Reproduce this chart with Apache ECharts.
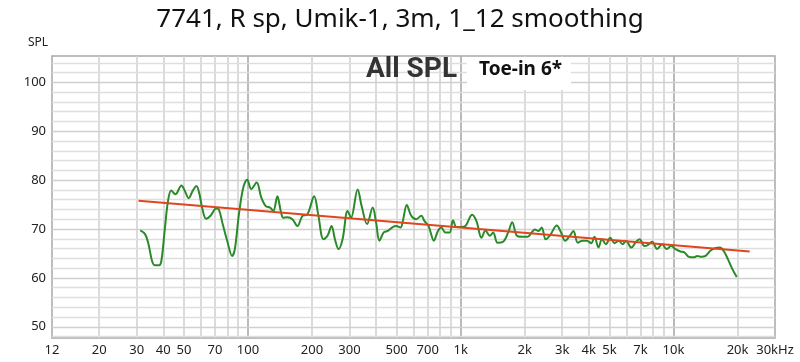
<!DOCTYPE html>
<html><head><meta charset="utf-8">
<script src="https://cdn.jsdelivr.net/npm/echarts@6/dist/echarts.min.js"></script>
<style>html,body{margin:0;padding:0;background:#fff}#c{width:800px;height:362px}</style>
</head><body><div id="c"></div>
<script>
// Measured response (Hz)
const freqs = [31.2,32.9,34.1,35.4,36.4,38.3,39.2,40.6,42.1,43.6,45.6,48.7,50.4,52.7,55.0,57.3,59.2,60.9,63.6,66.7,
  70.9,73.0,76.2,79.9,84.3,86.8,90.7,95.0,99.2,103.7,109.9,115.6,121.2,127.0,131.6,137.5,142.6,146.7,153.2,161.8,
  170.8,180.4,190.4,204.8,213.9,226.6,236.6,247.2,256.4,266.7,278.5,294.1,305.1,327.8,342.3,363.1,385.8,400.4,415.0,434.8,
  454.0,479.4,497.4,521.2,534.3,558.1,585.5,618.0,652.5,676.1,706.3,748.2,781.6,810.9,847.2,887.2,919.9,954.4,1000,1052,
  1131,1186,1252,1308,1370,1421,1490,1583,1672,1746,1831,1934,2064,2156,2234,2316,2403,2509,2629,2828,
  2963,3095,3267,3386,3552,3734,3917,4104,4254,4442,4610,4814,5044,5285,5521,5767,5983,6338,6668,6934,
  7298,7565,7934,8379,8846,9268,9754,10220,10790,11270,11810,12470,12940,13510,14160,14950,15780,16540,17280,18040,
  18920,19830];
// SPL (dB)
const spl = [69.7,68.9,66.9,63.5,62.6,62.6,63.5,69.6,75.7,77.9,77.1,78.9,77.9,76.3,77.8,78.8,77.1,74.4,72.1,72.7,
  74.2,74.0,70.9,67.6,64.5,65.9,73.0,78.4,80.1,78.2,79.5,76.4,74.7,74.4,73.7,76.7,73.7,72.3,72.4,72.0,
  70.6,72.7,73.0,76.7,73.0,67.9,68.6,70.6,67.9,65.9,67.9,73.7,72.3,78.1,74.7,71.0,74.4,71.3,67.6,69.3,
  69.6,70.4,70.6,70.3,71.6,74.9,72.7,72.0,72.7,71.6,70.6,67.6,69.6,70.3,69.3,69.3,71.8,70.4,70.4,70.6,
  72.9,71.6,68.2,69.7,68.6,69.3,67.2,67.4,69.3,71.4,68.7,68.4,68.4,69.3,69.9,69.6,70.3,67.9,68.7,70.7,
  69.3,67.6,68.7,69.6,67.2,67.6,67.6,67.1,68.4,66.2,67.9,66.9,68.2,67.1,67.6,66.9,67.6,66.2,67.4,67.9,
  66.5,66.7,67.4,65.9,66.9,65.9,66.5,65.9,65.4,65.2,64.3,64.2,64.5,64.3,64.5,65.6,66.1,66.2,65.4,63.8,
  61.8,60.2];
// Trend line
const trendFreqs = [30.6, 22800];
const trendSpl = [75.8, 65.4];
// Axis labels / grid
const xTickLabels = [12,20,30,40,50,70,100,200,300,500,700,1000,2000,3000,4000,5000,7000,10000,20000,30000];
const xGridFreqs = [20,30,40,50,60,70,80,90,100,200,300,400,500,600,700,800,900,1000,2000,3000,4000,5000,6000,7000,8000,9000,10000,20000];
const yTickLabels = [50,60,70,80,90,100];
const yGridLevels = [48,50,52,54,56,58,60,62,64,66,68,70,72,74,76,78,80,82,84,86,88,90,92,94,96,98,100,102,104];
const titleText = '7741, R sp, Umik-1, 3m, 1_12 smoothing';
const yName = 'SPL';
const noteText = 'All SPL';
const boxText = 'Toe-in 6*';

const chart = echarts.init(document.getElementById('c'), null, {renderer: 'canvas'});
const fmtX = v => v === 30000 ? '30kHz' : (v >= 1000 ? (v/1000) + 'k' : String(v));
const decades = [100, 1000, 10000];
const vLines = xGridFreqs.map(f => ({xAxis: f, lineStyle: {color: decades.includes(f) ? '#a9a9a9' : '#d2d2d2', width: 1.6, type: 'solid'}}));
const hLines = yGridLevels.map(l => ({yAxis: l, lineStyle: {color: l % 10 === 0 ? '#d0d0d0' : '#dedede', width: 1.4, type: 'solid'}}));

chart.setOption({
  animation: false,
  backgroundColor: '#fff',
  title: {text: titleText, left: 'center', top: 2,
    textStyle: {fontFamily: 'Noto Sans', fontWeight: 'normal', fontSize: 26, color: '#111'}},
  grid: {left: 52, right: 25, top: 56, bottom: 24, show: true, borderColor: '#a8a8a8', borderWidth: 1.5, backgroundColor: '#fff'},
  xAxis: {type: 'log', logBase: 10, min: 12, max: 30000,
    axisLine: {show: false}, axisTick: {show: false}, splitLine: {show: false}, minorSplitLine: {show: false},
    axisLabel: {customValues: xTickLabels, formatter: fmtX, margin: 6, color: '#222', fontFamily: 'Noto Sans', fontSize: 13, showMinLabel: true, showMaxLabel: true}},
  yAxis: {type: 'value', min: 47.7, max: 105.4,
    axisLine: {show: false}, axisTick: {show: false}, splitLine: {show: false},
    axisLabel: {customValues: yTickLabels, margin: 6, color: '#222', fontFamily: 'Noto Sans', fontSize: 13}},
  graphic: [
    {type: 'text', left: 28, top: 37, style: {text: yName, fontFamily: 'Noto Sans', fontSize: 12, fill: '#222'}},
    {type: 'rect', z: 5, shape: {x: 467, y: 57, width: 104, height: 33}, style: {fill: '#fff'}},
    {type: 'text', z: 6, left: 366, top: 56, style: {text: noteText, fontFamily: 'Liberation Sans Narrow, Roboto', fontWeight: 'bold', fontSize: 28, fill: '#333'}},
    {type: 'text', z: 6, left: 479, top: 60, style: {text: boxText, fontFamily: 'Noto Sans', fontWeight: 'bold', fontSize: 19, fill: '#111'}}
  ],
  series: [
    {type: 'line', z: 1, data: [], silent: true,
      markLine: {z: 1, silent: true, symbol: 'none', label: {show: false}, animation: false, data: vLines.concat(hLines)}},
    {type: 'line', z: 3, data: freqs.map((f, i) => [f, spl[i]]), smooth: 0.35, symbol: 'none',
      lineStyle: {color: '#2a8a2a', width: 2}},
    {type: 'line', z: 4, data: trendFreqs.map((f, i) => [f, trendSpl[i]]), symbol: 'none',
      lineStyle: {color: '#e0451f', width: 2}}
  ]
});
</script>
</body></html>
